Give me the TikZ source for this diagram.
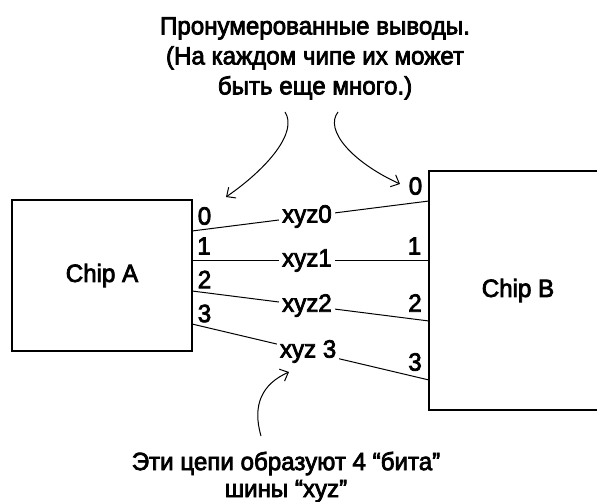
\documentclass[tikz,border=0pt]{standalone}
\usepackage{fontspec}
\setmainfont[FakeStretch=0.965, FakeBold=3]{Liberation Sans}
\usetikzlibrary{arrows.meta}
\tikzset{
  chip/.style={draw, line width=1.1pt, minimum width=180pt, minimum height=151pt, inner sep=0pt, font=\fontsize{25}{30}\selectfont},
  wire/.style={line width=1pt},
  bus/.style={fill=white, inner sep=3pt, font=\fontsize{25}{30}\selectfont},
  pin/.style={inner sep=0pt, font=\fontsize{25}{30}\selectfont},
  note/.style={align=center, inner sep=0pt},
  callout/.style={line width=1pt, -{Straight Barb[length=7pt,width=13pt]}}
}
\begin{document}
\begin{tikzpicture}[x=1pt,y=-1pt]
\useasboundingbox (0,0) rectangle (597,502);
\clip (0,0) rectangle (597,502);
\node[chip] (A) at (102,275.5) {Chip A};
\node[chip, minimum width=178pt, minimum height=239pt] (B) at (518,290.5) {Chip B};
% wire end points on the chip borders
\coordinate (a0) at (192,231); \coordinate (b0) at (429,201);
\coordinate (a1) at (192,260.5); \coordinate (b1) at (429,260.5);
\coordinate (a2) at (192,291); \coordinate (b2) at (429,321);
\coordinate (a3) at (192,324); \coordinate (b3) at (429,380);
\draw[wire] (a0) -- node[bus, pos=0.485] (x0) {xyz0} (b0);
\draw[wire] (a1) -- node[bus, pos=0.485] (x1) {xyz1} (b1);
\draw[wire] (a2) -- node[bus, pos=0.485] (x2) {xyz2} (b2);
\draw[wire] (a3) -- node[bus, pos=0.49] (x3) {xyz 3} (b3);
% pin numbers
\node[pin] (pa0) at (204.5,216) {0};
\node[pin] (pa1) at (204,246) {1};
\node[pin] (pa2) at (204.5,279.5) {2};
\node[pin] (pa3) at (204.5,313.5) {3};
\node[pin] (pb0) at (415.5,186) {0};
\node[pin] (pb1) at (414.5,246) {1};
\node[pin] (pb2) at (415,303) {2};
\node[pin] (pb3) at (415,362) {3};
% notes
\node[note, anchor=north, font=\fontsize{25}{30}\selectfont] (top) at (315,17) {Пронумерованные выводы.\\(На каждом чипе их может\\быть еще много.)};
\node[note, anchor=south, font=\fontsize{25}{27}\selectfont] (bot) at (286,502.5) {Эти цепи образуют 4 “бита”\\шины “xyz”};
\coordinate (t1) at (285,112);
\coordinate (t2) at (338,112);
\coordinate (c3) at (261,436);
\draw[callout] (t1) .. controls (298,132) and (268,168) .. (226,197);
\draw[callout] (t2) .. controls (324,130) and (352,162) .. (400,184);
\draw[callout] (c3) .. controls (252,405) and (262,384) .. (289,372);
\end{tikzpicture}
\end{document}
